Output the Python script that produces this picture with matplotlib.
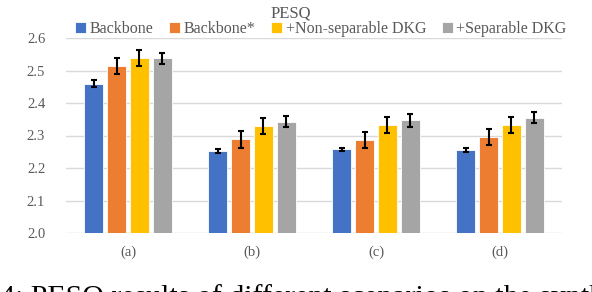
import numpy as np
import matplotlib.pyplot as plt

plt.rcParams['font.family'] = ['Liberation Serif', 'DejaVu Serif']

groups = ['(a)', '(b)', '(c)', '(d)']
series = ['Backbone', 'Backbone*', '+Non-separable DKG', '+Separable DKG']
colors = ['#4472C4', '#ED7D31', '#FFC000', '#A5A5A5']

backbone = [2.460, 2.252, 2.257, 2.256]
backbone_star = [2.515, 2.288, 2.287, 2.296]
nonsep = [2.538, 2.330, 2.332, 2.333]
sep = [2.537, 2.343, 2.347, 2.355]

backbone_err = [0.010, 0.007, 0.006, 0.007]
backbone_star_err = [0.025, 0.025, 0.025, 0.025]
nonsep_err = [0.025, 0.025, 0.025, 0.025]
sep_err = [0.017, 0.018, 0.020, 0.017]

values = [backbone, backbone_star, nonsep, sep]
errors = [backbone_err, backbone_star_err, nonsep_err, sep_err]

fig = plt.figure(figsize=(5.92, 2.92), dpi=100)
ax = fig.add_axes([66/592, 1-233/292, 496/592, 195/292])

x = np.arange(len(groups))
pitch = 0.185
w = 0.148
for i in range(4):
    pos = x + (i - 1.5) * pitch
    ax.bar(pos, values[i], w, color=colors[i], edgecolor='white', linewidth=0.6,
           label=series[i], zorder=2)
    ax.errorbar(pos, values[i], yerr=errors[i], fmt='none', ecolor='black',
                elinewidth=1.5, capsize=2.5, capthick=1.5, zorder=3)

ax.set_ylim(2.0, 2.6)
ax.set_xlim(-0.5, 3.5)
ax.set_yticks(np.arange(2.0, 2.61, 0.1))
ax.set_yticklabels(['%.1f' % v for v in np.arange(2.0, 2.61, 0.1)])
ax.set_xticks(x)
ax.set_xticklabels(groups)
ax.grid(axis='y', color='#D9D9D9', linewidth=1, zorder=0)
for s in ax.spines.values():
    s.set_visible(False)
ax.tick_params(axis='both', length=0, labelsize=10.5, colors='#595959')
ax.tick_params(axis='y', pad=15)
ax.tick_params(axis='x', pad=9)

fig.text(0.492, 0.955, 'PESQ', ha='center', va='center', fontsize=12, color='#595959')
fig.legend(loc='center', bbox_to_anchor=(0.542, 0.9), ncol=4, frameon=False,
           fontsize=11.5, labelcolor='#595959', handlelength=0.7, handleheight=0.7,
           handletextpad=0.2, columnspacing=1.0, borderaxespad=0)

# caption of the paper figure, cut off at the bottom edge as in the source
fig.text(0.0, -0.045, '4: PESQ results of different scenarios on the synth',
         ha='left', va='baseline', fontsize=21.5, color='black')

fig.savefig('out.png', dpi=100)
